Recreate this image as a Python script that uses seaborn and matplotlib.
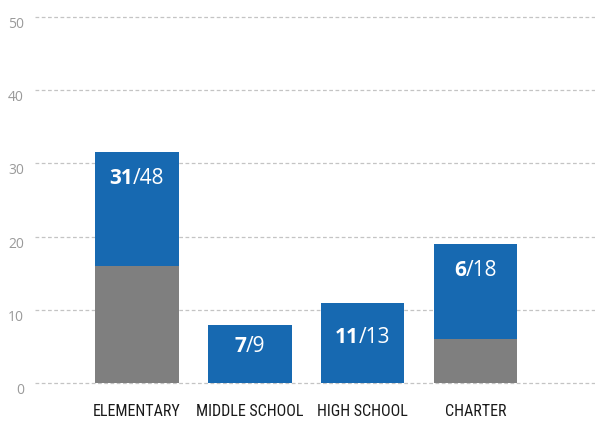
import matplotlib
matplotlib.use("Agg")
import matplotlib.pyplot as plt
import pandas as pd
import seaborn as sns

# School categories and the two stacked segments of each bar
categories = ["ELEMENTARY", "MIDDLE SCHOOL", "HIGH SCHOOL", "CHARTER"]
gray_part = [16, 0, 0, 6]
blue_part = [15.5, 8, 11, 13]
# Ratio shown inside each bar: bold count / total
label_num = [31, 7, 11, 6]
label_den = [48, 9, 13, 18]
y_ticks = [0, 10, 20, 30, 40, 50]

BLUE = "#1769b1"
GRAY = "#7f7f7f"

df = pd.DataFrame({
    "category": categories,
    "gray": gray_part,
    "total": [g + b for g, b in zip(gray_part, blue_part)],
})

sns.set_theme(style="white")
plt.rcParams["font.family"] = ["Open Sans", "DejaVu Sans"]

fig = plt.figure(figsize=(5.95, 4.24), dpi=100)
ax = fig.add_axes([35 / 595, 40.7 / 424, 560 / 595, 366.6 / 424])

sns.barplot(data=df, x="category", y="total", color=BLUE, saturation=1,
            width=0.74, linewidth=0, ax=ax, zorder=2)
sns.barplot(data=df, x="category", y="gray", color=GRAY, saturation=1,
            width=0.74, linewidth=0, ax=ax, zorder=3)

ax.set_xlim(-0.905, 4.06)
ax.set_ylim(0, 50)
ax.set_yticks(y_ticks)
ax.set_xlabel("")
ax.set_ylabel("")
for s in ax.spines.values():
    s.set_visible(False)
ax.yaxis.grid(True, linestyle=(0, (3, 2)), color="#c4c4c4", linewidth=0.9,
              clip_on=False)
ax.xaxis.grid(False)
ax.set_axisbelow(True)
ax.tick_params(axis="y", length=0, pad=8, labelsize=10, labelcolor="#9a9a9a")
ax.tick_params(axis="x", length=0, pad=15, labelsize=11.5, labelcolor="#1a1a1a")
for lbl in ax.get_yticklabels():
    lbl.set_verticalalignment("top")
for lbl in ax.get_xticklabels():
    lbl.set_family(["Roboto Condensed", "DejaVu Sans"])
    lbl.set_stretch("condensed")

# Ratio labels: bold numerator, regular "/denominator", centred together
fig.canvas.draw()
renderer = fig.canvas.get_renderer()
for i, (g, total, n, d) in enumerate(zip(gray_part, df["total"], label_num, label_den)):
    y = total - 3.6 if g > 0 else total * 0.4 + 1.8
    t1 = ax.text(i, y, f"{n}", color="white", fontsize=15, fontweight="bold",
                 ha="right", va="center", zorder=5)
    t2 = ax.text(i, y, f"/{d}", color="white", fontsize=15,
                 ha="left", va="center", zorder=5)
    w1 = t1.get_window_extent(renderer).width
    w2 = t2.get_window_extent(renderer).width
    shift_px = (w1 - w2) / 2
    x_px = ax.transData.transform((i, y))[0] + shift_px
    x_data = ax.transData.inverted().transform((x_px, 0))[0]
    t1.set_x(x_data)
    t2.set_x(x_data)

fig.savefig("out.png", dpi=100)
